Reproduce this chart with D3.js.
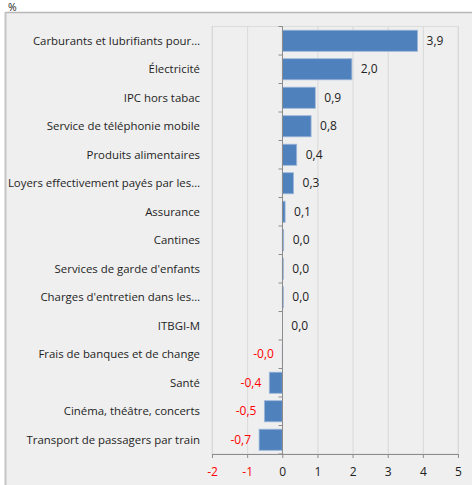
<!DOCTYPE html>
<html>
<head>
<meta charset="utf-8">
<style>
  body { margin: 0; background: #fff; }
  svg text { font-family: "Open Sans", "Noto Sans", sans-serif; }
</style>
</head>
<body>
<script src="https://cdnjs.cloudflare.com/ajax/libs/d3/7.8.5/d3.min.js"></script>
<svg id="chart" width="472" height="485"></svg>
<script>
  // categories, top to bottom
  const categories = [
    "Carburants et lubrifiants pour…",
    "Électricité",
    "IPC hors tabac",
    "Service de téléphonie mobile",
    "Produits alimentaires",
    "Loyers effectivement payés par les…",
    "Assurance",
    "Cantines",
    "Services de garde d'enfants",
    "Charges d'entretien dans les…",
    "ITBGI-M",
    "Frais de banques et de change",
    "Santé",
    "Cinéma, théâtre, concerts",
    "Transport de passagers par train"
  ];
  const values = [3.85, 1.98, 0.94, 0.82, 0.41, 0.32, 0.08, 0.04, 0.03, 0.03, 0.0, -0.01, -0.37, -0.51, -0.66];
  const xTicks = [-2, -1, 0, 1, 2, 3, 4, 5];

  const svg = d3.select('#chart');

  // chart background with top / left border
  svg.append('rect')
    .attr('x', 6).attr('y', 12)
    .attr('width', 472).attr('height', 480)
    .attr('fill', '#efefef');
  svg.append('line')
    .attr('x1', 5).attr('x2', 472).attr('y1', 12.5).attr('y2', 12.5)
    .attr('stroke', '#b8b8b8').attr('stroke-width', 1.5);
  svg.append('line')
    .attr('x1', 5.5).attr('x2', 5.5).attr('y1', 12).attr('y2', 485)
    .attr('stroke', '#c4c4c4').attr('stroke-width', 2);

  svg.append('text')
    .attr('x', 8).attr('y', 10.5)
    .attr('font-size', 10.5)
    .attr('fill', '#222')
    .text('%');

  const pLeft = 212, pRight = 458, pTop = 26.5, pBottom = 454;

  const x = d3.scaleLinear().domain([-2, 5]).range([pLeft, pRight]);
  const y = d3.scaleBand().domain(categories).range([pTop, pBottom]).paddingInner(0.26).paddingOuter(0.13);
  const step = y.step();

  // plot area frame
  svg.append('rect')
    .attr('x', pLeft).attr('y', pTop)
    .attr('width', pRight - pLeft).attr('height', pBottom - pTop)
    .attr('fill', '#efefef')
    .attr('stroke', '#dcdcdc');

  // vertical gridlines
  svg.append('g')
    .selectAll('line')
    .data(xTicks.filter(d => d !== 0))
    .join('line')
    .attr('x1', d => x(d) + 0.5).attr('x2', d => x(d) + 0.5)
    .attr('y1', pTop).attr('y2', pBottom)
    .attr('stroke', '#d9d9d9');

  // bars
  svg.append('g')
    .selectAll('rect')
    .data(values)
    .join('rect')
    .attr('x', d => x(Math.min(0, d)))
    .attr('y', (d, i) => y(categories[i]))
    .attr('width', d => Math.abs(x(d) - x(0)))
    .attr('height', y.bandwidth())
    .attr('fill', '#4f81bd')
    .attr('stroke', d => Math.abs(d) < 0.02 ? 'none' : '#9db7d9')
    .attr('stroke-width', 0.8);

  // zero axis with band ticks
  const zx = Math.round(x(0)) + 0.5;
  svg.append('line')
    .attr('x1', zx).attr('x2', zx).attr('y1', pTop).attr('y2', pBottom)
    .attr('stroke', '#8c8c8c');
  svg.append('g')
    .selectAll('line')
    .data(d3.range(categories.length + 1))
    .join('line')
    .attr('x1', zx - 4).attr('x2', zx)
    .attr('y1', i => pTop + i * step).attr('y2', i => pTop + i * step)
    .attr('stroke', '#8c8c8c');

  // bottom axis
  const xAxis = svg.append('g')
    .attr('transform', `translate(0,${pBottom})`)
    .call(d3.axisBottom(x).tickValues(xTicks).tickSize(4).tickPadding(9).tickFormat(d => d));
  xAxis.select('.domain').attr('stroke', '#8c8c8c');
  xAxis.selectAll('.tick line').attr('stroke', '#8c8c8c');
  xAxis.selectAll('.tick text')
    .attr('font-size', 12)
    .attr('font-family', '"Open Sans", sans-serif')
    .attr('fill', d => d < 0 ? '#ff0000' : '#222');

  // category labels
  svg.append('g')
    .selectAll('text')
    .data(categories)
    .join('text')
    .attr('x', 200)
    .attr('y', d => y(d) + y.bandwidth() / 2)
    .attr('dy', '0.35em')
    .attr('text-anchor', 'end')
    .attr('font-size', 11.4)
    .attr('fill', '#1e1e1e')
    .text(d => d);

  // value labels
  const fmt = v => (v < 0 ? '-' : '') + Math.abs(v).toFixed(1).replace('.', ',');
  svg.append('g')
    .selectAll('text')
    .data(values)
    .join('text')
    .attr('x', d => d < 0 ? x(d) - 8 : x(d) + 9)
    .attr('y', (d, i) => y(categories[i]) + y.bandwidth() / 2)
    .attr('dy', '0.35em')
    .attr('text-anchor', d => d < 0 ? 'end' : 'start')
    .attr('font-size', 12)
    .attr('fill', d => d < 0 ? '#ff0000' : '#222')
    .text(fmt);
</script>
</body>
</html>
